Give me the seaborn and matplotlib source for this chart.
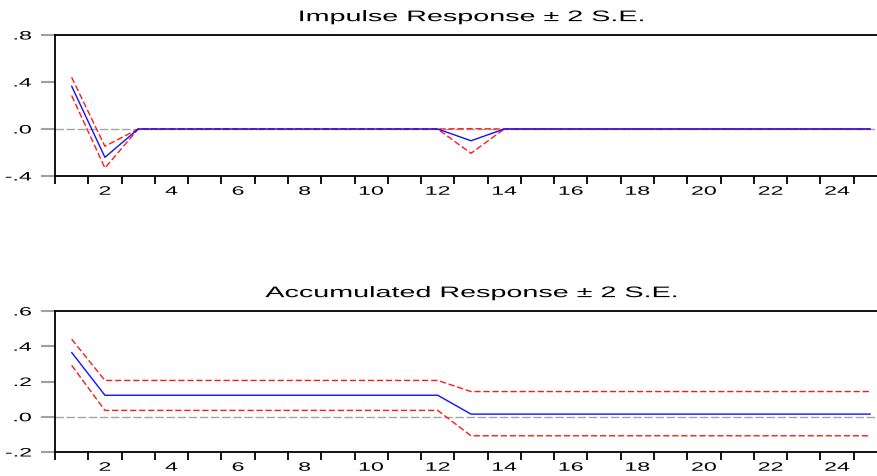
import matplotlib
matplotlib.use("Agg")
import matplotlib.pyplot as plt
import seaborn as sns
import pandas as pd
import numpy as np
from matplotlib.patheffects import AbstractPathEffect
from matplotlib.transforms import Affine2D

periods = list(range(1, 26))

# Impulse response and +/- 2 S.E. bands
impulse = [0.365, -0.241] + [0.0] * 10 + [-0.100] + [0.0] * 12
impulse_hi = [0.440, -0.147] + [0.0] * 10 + [0.003] + [0.0] * 12
impulse_lo = [0.285, -0.332] + [0.0] * 10 + [-0.207] + [0.0] * 12

# Accumulated response and +/- 2 S.E. bands
accum = [0.365] + [0.122] * 11 + [0.015] * 13
accum_hi = [0.440] + [0.206] * 11 + [0.143] * 13
accum_lo = [0.292] + [0.036] * 11 + [-0.108] * 13

sns.set_theme(style="white")
plt.rcParams["font.family"] = ["Liberation Sans", "DejaVu Sans"]
plt.rcParams["text.color"] = "black"
plt.rcParams["xtick.color"] = "black"
plt.rcParams["ytick.color"] = "black"


class WideText(AbstractPathEffect):
    """Draw glyphs widened horizontally about a fixed anchor of the ink box."""

    def __init__(self, sx, anchor="center"):
        super().__init__()
        self.sx = sx
        self.anchor = anchor

    def draw_path(self, renderer, gc, tpath, affine, rgbFace=None):
        ext = tpath.get_extents(affine)
        if self.anchor == "right":
            cx = ext.x1
        elif self.anchor == "left":
            cx = ext.x0
        else:
            cx = 0.5 * (ext.x0 + ext.x1)
        wide = affine + Affine2D().translate(-cx, 0).scale(self.sx, 1.0).translate(cx, 0)
        renderer.draw_path(gc, tpath, wide, rgbFace)


W, H = 877, 477
fig = plt.figure(figsize=(W / 100, H / 100), dpi=100)


def frac_axes(left, top, right, bottom):
    return fig.add_axes([left / W, 1 - bottom / H, (right - left) / W, (bottom - top) / H])


def draw_panel(ax, title, mid, hi, lo, ylim, yticks, ylabels):
    df = pd.DataFrame({"period": periods, "mid": mid, "hi": hi, "lo": lo})
    ax.axhline(0, color="#a4a4a4", lw=1.0, dashes=(6, 2), zorder=1)
    sns.lineplot(data=df, x="period", y="hi", ax=ax, color="#ff1a1a", lw=1.0, zorder=2)
    ax.lines[-1].set_dashes((4.5, 2))
    sns.lineplot(data=df, x="period", y="lo", ax=ax, color="#ff1a1a", lw=1.0, zorder=2)
    ax.lines[-1].set_dashes((4.5, 2))
    sns.lineplot(data=df, x="period", y="mid", ax=ax, color="#1010ff", lw=1.0, zorder=3)

    ax.set_xlim(0.5, 25.5)
    ax.set_ylim(*ylim)
    ax.set_xlabel("")
    ax.set_ylabel("")
    t = ax.set_title(title, fontsize=11, pad=10)
    t.set_path_effects([WideText(1.88, "center")])

    # x: tick marks on period boundaries, labels centred on even periods
    ax.set_xticks(np.arange(0.5, 26, 1.0))
    ax.set_xticklabels([])
    ax.set_xticks(np.arange(2, 25, 2), minor=True)
    ax.set_xticklabels([str(v) for v in range(2, 25, 2)], minor=True)
    ax.tick_params(axis="x", which="major", direction="out", length=6, width=1.3,
                   color="black", bottom=True)
    ax.tick_params(axis="x", which="minor", length=0, labelsize=8.8, pad=7,
                   bottom=True, labelcolor="black")

    ax.set_yticks(yticks)
    ax.set_yticklabels(ylabels)
    ax.tick_params(axis="y", direction="out", length=10, width=1.5, color="#a0a0a0",
                   labelsize=8.8, pad=7, left=True, labelcolor="black")

    for lab in ax.get_xticklabels(minor=True):
        lab.set_path_effects([WideText(1.9, "center")])
    for lab in ax.get_yticklabels():
        lab.set_path_effects([WideText(1.9, "right")])

    for side in ("left", "bottom", "top"):
        ax.spines[side].set_visible(True)
        ax.spines[side].set_color("black")
        ax.spines[side].set_linewidth(1.3)
    ax.spines["right"].set_visible(False)
    ax.grid(False)


ax1 = frac_axes(55, 36, 887, 177)
draw_panel(ax1, "Impulse Response \u00b1 2 S.E.", impulse, impulse_hi, impulse_lo,
           (-0.4, 0.8), [-0.4, 0.0, 0.4, 0.8], ["-.4", ".0", ".4", ".8"])

ax2 = frac_axes(55, 312, 887, 453)
draw_panel(ax2, "Accumulated Response \u00b1 2 S.E.", accum, accum_hi, accum_lo,
           (-0.2, 0.6), [-0.2, 0.0, 0.2, 0.4, 0.6], ["-.2", ".0", ".2", ".4", ".6"])

fig.savefig("out.png", dpi=100)
